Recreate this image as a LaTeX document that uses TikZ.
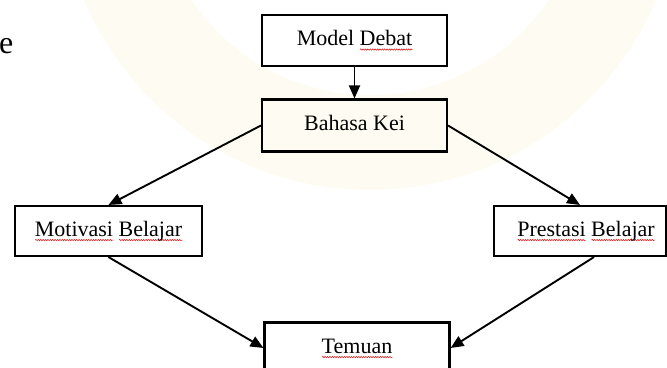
\documentclass[tikz,border=0pt]{standalone}
\usepackage{fontspec}
\setmainfont{Liberation Serif}
\usetikzlibrary{arrows.meta,decorations.pathmorphing}
\definecolor{wm}{RGB}{254,252,242}
\definecolor{sq}{RGB}{215,35,35}
\newsavebox\wvbox
\newcommand\wv[1]{\sbox\wvbox{#1}\rlap{\tikz[baseline=0pt]\draw[sq,line width=0.6pt,decorate,decoration={snake,amplitude=0.65pt,segment length=2.4pt}] (0pt,-3.8pt) -- (\wd\wvbox,-3.8pt);}\usebox\wvbox}
\begin{document}
\begin{tikzpicture}[x=1pt,y=-1pt,
  box/.style={draw=black,line width=2.1pt,inner sep=0pt,
    font=\fontsize{22}{26}\selectfont,text height=15pt,text depth=4.5pt},
  lbl/.style={inner sep=0pt,font=\fontsize{22}{26}\selectfont,text height=15pt,text depth=4.5pt},
  arr/.style={line width=1.9pt,-{Triangle[length=13pt,width=11pt]}}
]
\useasboundingbox (0,0) rectangle (667,367);
\begin{scope}
  \clip (0,0) rectangle (667,367);
  \fill[wm,even odd rule] (370,-120) circle (310) (370,-120) circle (215);
\end{scope}
\node[inner sep=0pt,anchor=base east,font=\fontsize{32}{36}\selectfont] (e) at (13.5,53) {e};

\node[box,minimum width=185pt,minimum height=51pt] (md) at (354.5,40.5) {Model \wv{Debat}};
\node[box,minimum width=185pt,minimum height=52pt] (bk) at (354.5,125.5) {Bahasa Kei};
\node[box,minimum width=187pt,minimum height=50pt] (mb) at (108.5,231) {\wv{Motivasi} \wv{Belajar}};
\node[box,minimum width=172pt,minimum height=50pt] (pb) at (580,231) {};
\node[lbl] (pbt) at (586,231) {\wv{Prestasi} \wv{Belajar}};
\node[box,minimum width=185pt,minimum height=51pt] (tm) at (357,348) {\wv{Temuan}};

\draw[arr] (md) -- (bk);
\draw[arr] (bk.west) -- (mb.north);
\draw[arr] (bk.east) -- (pb.north);
\draw[arr] (mb.south) -- (tm.west);
\draw[arr] ([xshift=14pt]pb.south) -- (tm.east);
\end{tikzpicture}
\end{document}
